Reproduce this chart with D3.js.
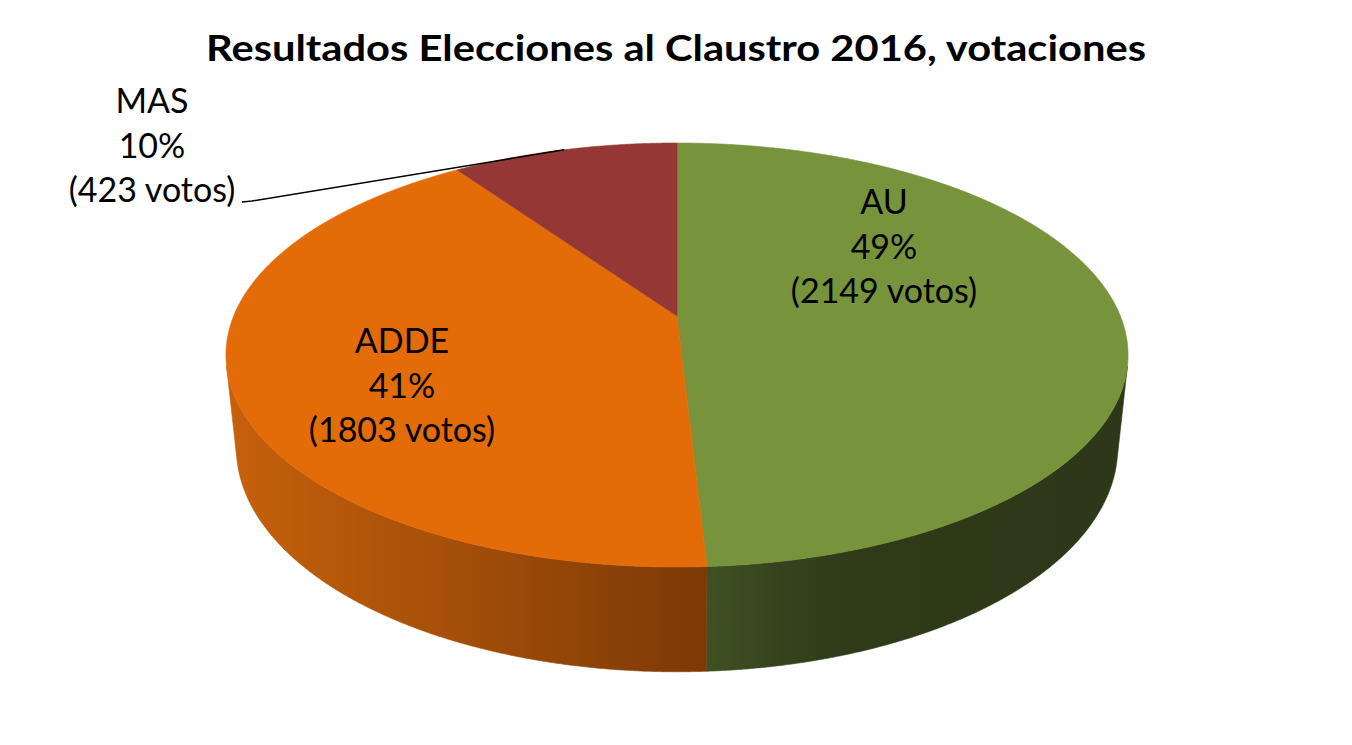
<!DOCTYPE html>
<html>
<head>
<meta charset="utf-8">
<script src="https://cdn.jsdelivr.net/npm/d3@7/dist/d3.min.js"></script>
<style>
  html, body { margin: 0; padding: 0; background: #ffffff; }
  svg { display: block; }
  text { font-family: Lato, "Open Sans", "DejaVu Sans", sans-serif; fill: #000; }
</style>
</head>
<body>
<svg id="chart" width="1352" height="745"></svg>
<script>
// ---- Data ----
const categories = ["AU", "ADDE", "MAS"];
const votes = [2149, 1803, 423];
const percentLabels = ["49%", "41%", "10%"];
const voteLabels = ["(2149 votos)", "(1803 votos)", "(423 votos)"];
const title = "Resultados Elecciones al Claustro 2016, votaciones";

// ---- Styles ----
const topColors = ["#77933C", "#E36C09", "#953735"];
const sideStops = [
  [[0, "#3F5123"], [0.18, "#34431D"], [0.35, "#2F3A19"], [1, "#2E3818"]],
  [[0, "#C6610B"], [0.5, "#A24E09"], [1, "#7B3905"]],
  [[0, "#6E2624"], [1, "#5A1E1C"]]
];

// ---- Perspective projection of a tilted disc ----
const W = 1352, H = 745;
const cx = 677, cy = 316;
const phi = Math.asin(0.462);
const Dist = 4.82, focal = 2137, thick = 0.238;

function proj(theta, r, z) {
  const x = r * Math.sin(theta), y = r * Math.cos(theta);
  const depth = y * Math.cos(phi) - z * Math.sin(phi) + Dist;
  const sy = y * Math.sin(phi) + z * Math.cos(phi);
  return [cx + focal * x / depth, cy - focal * sy / depth];
}

const svg = d3.select("#chart");

const pie = d3.pie().sort(null).value(d => d.v);
const arcs = pie(categories.map((c, i) => ({ c, v: votes[i], i })));

function arcPoints(a, b, z) {
  const n = Math.max(2, Math.ceil(Math.abs(b - a) / (Math.PI / 720)));
  return d3.range(n + 1).map(k => proj(a + (b - a) * k / n, 1, z));
}

// visible range of outer wall
const thMin = Math.acos(-1 / (Dist * Math.cos(phi)));
const thMax = 2 * Math.PI - thMin;

const defs = svg.append("defs");
const line = d3.line();

// walls
const wallG = svg.append("g");
arcs.forEach(d => {
  const a = Math.max(d.startAngle, thMin), b = Math.min(d.endAngle, thMax);
  if (b <= a) return;
  const topPts = arcPoints(a, b, 0);
  const botPts = arcPoints(b, a, -thick);
  const pts = topPts.concat(botPts);
  const xs = pts.map(p => p[0]);
  const x0 = d3.min(xs), x1 = d3.max(xs);
  const id = "side" + d.data.i;
  const grad = defs.append("linearGradient").attr("id", id)
    .attr("gradientUnits", "userSpaceOnUse")
    .attr("x1", x0).attr("x2", x1).attr("y1", 0).attr("y2", 0);
  sideStops[d.data.i].forEach(s => grad.append("stop").attr("offset", s[0]).attr("stop-color", s[1]));
  wallG.append("path")
    .attr("d", line(pts) + "Z")
    .attr("fill", `url(#${id})`)
    .attr("stroke", `url(#${id})`)
    .attr("stroke-width", 0.6);
});

// top faces
const topG = svg.append("g");
arcs.forEach(d => {
  const pts = [proj(0, 0, 0)].concat(arcPoints(d.startAngle, d.endAngle, 0));
  topG.append("path")
    .attr("d", line(pts) + "Z")
    .attr("fill", topColors[d.data.i])
    .attr("stroke", topColors[d.data.i])
    .attr("stroke-width", 0.6)
    .attr("stroke-linejoin", "round");
});

// title
svg.append("text")
  .attr("x", W / 2).attr("y", 61)
  .attr("text-anchor", "middle")
  .attr("font-weight", "bold")
  .attr("font-size", 37)
  .attr("textLength", 940)
  .attr("lengthAdjust", "spacingAndGlyphs")
  .text(title);

// labels
const labelPos = [
  { x: 884, y: 214 },   // AU first baseline
  { x: 402, y: 353 },   // ADDE
  { x: 152, y: 113 }    // MAS
];
const lineGap = 44.5;
const labelSize = 34;
arcs.forEach(d => {
  const i = d.data.i;
  const p = labelPos[i];
  const g = svg.append("g");
  [categories[i], percentLabels[i], voteLabels[i]].forEach((t, k) => {
    g.append("text")
      .attr("x", p.x).attr("y", p.y + k * lineGap)
      .attr("text-anchor", "middle")
      .attr("font-size", labelSize)
      .text(t);
  });
});

// leader line for MAS
{
  const d = arcs[2];
  const mid = (d.startAngle + d.endAngle) / 2;
  const rim = proj(mid, 1, 0);
  const start = [labelPos[2].x + 90, labelPos[2].y + 2 * lineGap];
  svg.append("path")
    .attr("d", line([start, [start[0] + 10, start[1] - 1], rim]))
    .attr("fill", "none")
    .attr("stroke", "#000")
    .attr("stroke-width", 1.5);
}
</script>
</body>
</html>
